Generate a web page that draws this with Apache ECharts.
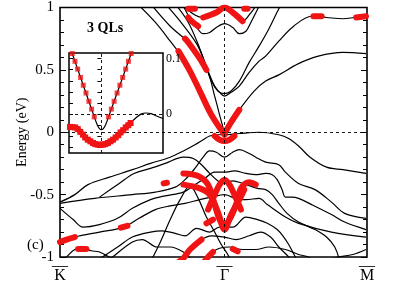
<!DOCTYPE html>
<html><head><meta charset="utf-8">
<script src="https://cdn.jsdelivr.net/npm/echarts@6/dist/echarts.min.js"></script>
<style>html,body{margin:0;padding:0;background:#fff}#c{width:406px;height:292px}</style>
</head><body><div id="c"></div>
<script>
// k axis: K = 0, Gamma = 1, M = 1 + sqrt(3)/2
const kTicks = [0, 1, 1.866];
const kLabels = ['K', 'Γ', 'M'];
const insetLabelTicks = [0, 0.1];
const insetMinorTicks = [-0.06, -0.04, -0.02, 0, 0.02, 0.04, 0.06, 0.08, 0.1];

// conduction bands
const bandC1 = [[0.47,1.03],[0.58,0.88],[0.67,0.73],[0.76,0.57],[0.85,0.33],[0.92,0.14],[1.0,-0.02]];
const bandC2 = [[0.55,1.03],[0.67,0.85],[0.78,0.72],[0.85,0.59],[0.90,0.48],[0.94,0.29],[0.97,0.14],[1.0,-0.01]];
const bandC3 = [[1.0,-0.01],[1.04,0.08],[1.09,0.18],[1.18,0.33],[1.25,0.41],[1.33,0.46],[1.45,0.55],[1.57,0.61],[1.72,0.64],[1.86,0.63]];
const bandP1 = [[0.64,1.03],[0.73,0.89],[0.83,0.71],[0.88,0.56],[0.92,0.41],[0.96,0.33],[1.0,0.31],[1.04,0.33],[1.09,0.41],[1.15,0.56],[1.21,0.69],[1.27,0.83],[1.33,0.99],[1.35,1.03]];
const bandP2 = [[0.70,1.03],[0.78,0.88],[0.85,0.67],[0.90,0.49],[0.94,0.37],[0.97,0.32],[1.0,0.29],[1.04,0.32],[1.09,0.37],[1.15,0.48],[1.21,0.57],[1.25,0.61],[1.33,0.73],[1.42,0.85],[1.53,0.93],[1.62,0.92],[1.72,0.91],[1.79,0.92],[1.86,0.93]];
const bandW1 = [[0.73,1.03],[0.82,0.94],[0.87,0.92],[0.95,0.96],[1.0,1.0],[1.05,0.96],[1.11,0.89],[1.15,0.94],[1.2,1.03]];
const bandW2 = [[0.75,1.01],[0.80,0.89],[0.83,0.84],[0.87,0.79],[0.91,0.80],[0.95,0.84],[1.0,0.87],[1.05,0.84],[1.09,0.79],[1.13,0.81],[1.16,0.88],[1.21,1.01]];

// valence bands
const bandV1 = [[0,-0.56],[0.09,-0.50],[0.17,-0.42],[0.30,-0.36],[0.44,-0.30],[0.55,-0.25],[0.67,-0.20],[0.75,-0.15],[0.82,-0.10],[0.87,-0.06],[0.91,-0.03],[0.96,-0.02],[1.0,-0.02],[1.09,-0.01],[1.21,0.0],[1.33,-0.02],[1.39,-0.05],[1.45,-0.11],[1.52,-0.20],[1.62,-0.28],[1.72,-0.30],[1.86,-0.33]];
const bandV2 = [[0,-0.57],[0.21,-0.53],[0.44,-0.50],[0.58,-0.48],[0.70,-0.44],[0.76,-0.38],[0.82,-0.29],[0.87,-0.20],[0.91,-0.15],[0.95,-0.16],[1.0,-0.20],[1.05,-0.16],[1.09,-0.14],[1.15,-0.17],[1.19,-0.20],[1.25,-0.24],[1.33,-0.26],[1.37,-0.32],[1.45,-0.41],[1.55,-0.46],[1.65,-0.56],[1.73,-0.65],[1.86,-0.69]];
const bandV3 = [[0,-0.61],[0.08,-0.70],[0.14,-0.76],[0.24,-0.74],[0.35,-0.69],[0.44,-0.61],[0.55,-0.54],[0.64,-0.51],[0.75,-0.48],[0.82,-0.42],[0.88,-0.37],[0.94,-0.32],[1.0,-0.32],[1.06,-0.31],[1.13,-0.33],[1.19,-0.34],[1.25,-0.33],[1.29,-0.34],[1.32,-0.38],[1.35,-0.46],[1.37,-0.52],[1.41,-0.52],[1.45,-0.53],[1.53,-0.58],[1.65,-0.66],[1.73,-0.72],[1.86,-0.78]];
const bandV4 = [[0.24,-0.52],[0.36,-0.41],[0.45,-0.33],[0.55,-0.29],[0.64,-0.25],[0.75,-0.20],[0.81,-0.21],[0.86,-0.26],[0.91,-0.33],[0.96,-0.39],[1.0,-0.41],[1.05,-0.39],[1.11,-0.41],[1.2,-0.45],[1.25,-0.46],[1.29,-0.50],[1.33,-0.57],[1.38,-0.65],[1.45,-0.72],[1.55,-0.78],[1.62,-0.84],[1.67,-0.92],[1.70,-1.03]];
const bandV5 = [[0,-0.88],[0.09,-0.84],[0.24,-0.80],[0.39,-0.76],[0.48,-0.69],[0.58,-0.62],[0.67,-0.59],[0.76,-0.57],[0.85,-0.54],[0.92,-0.52],[1.0,-0.50],[1.09,-0.54],[1.13,-0.54],[1.21,-0.53],[1.26,-0.58],[1.37,-0.68],[1.45,-0.73],[1.65,-0.80],[1.86,-0.84]];
const bandV6 = [[0.01,-1.04],[0.04,-1.0],[0.09,-0.94],[0.14,-0.93],[0.19,-0.95],[0.24,-0.96],[0.30,-1.0],[0.33,-1.02]];
const bandV7 = [[0.21,-1.04],[0.35,-0.92],[0.44,-0.84],[0.55,-0.80],[0.62,-0.79],[0.70,-0.81],[0.76,-0.83],[0.83,-0.77],[0.91,-0.80],[0.97,-0.76],[1.05,-0.76],[1.13,-0.68],[1.2,-0.70],[1.26,-0.73],[1.32,-0.78],[1.36,-0.84],[1.39,-0.90],[1.43,-1.0],[1.44,-1.04]];
const bandV8 = [[0.29,-1.04],[0.32,-1.0],[0.44,-0.88],[0.50,-0.86],[0.59,-0.92],[0.67,-0.92],[0.75,-0.96],[0.80,-1.02]];
const bandV9 = [[0.55,-1.04],[0.61,-0.88],[0.67,-0.70],[0.73,-0.54],[0.79,-0.43],[0.84,-0.53],[0.89,-0.68],[0.94,-0.80],[0.98,-0.90],[1.02,-0.98],[1.04,-1.04]];
const bandV10 = [[0.72,-1.04],[0.74,-1.02],[0.79,-0.94],[0.86,-0.86],[0.92,-0.83],[1.0,-0.84],[1.07,-0.86],[1.15,-0.83],[1.22,-0.80],[1.28,-0.84],[1.33,-0.92],[1.39,-1.0],[1.41,-1.04]];
const bandV11 = [[0.88,-1.04],[0.93,-0.96],[0.97,-0.93],[1.03,-0.92],[1.11,-0.94],[1.19,-0.94],[1.27,-0.92],[1.37,-0.94],[1.45,-0.98],[1.51,-1.0],[1.55,-1.04]];
const bandV12 = [[1.62,-1.02],[1.69,-1.0],[1.78,-0.98],[1.86,-0.94]];

// red (weighted) segments
const redC1 = [[0.72,0.65],[0.79,0.49],[0.85,0.33],[0.92,0.14],[1.0,-0.02]];
const redC2 = [[0.76,0.75],[0.78,0.72],[0.85,0.59],[0.89,0.50]];
const redC3 = [[1.0,-0.01],[1.04,0.08],[1.09,0.18]];
const redDirac = [[0.94,-0.03],[0.97,-0.06],[1.0,-0.07],[1.03,-0.06],[1.06,-0.03]];
const redP2a = [[1.54,0.93],[1.59,0.93]];
const redP2b = [[1.80,0.92],[1.86,0.93]];
const redW1 = [[0.87,0.92],[0.95,0.96],[1.0,1.0],[1.05,0.96],[1.11,0.89]];
const redW2 = [[0.78,0.92],[0.80,0.89],[0.84,0.85]];
const redTopA = [[0.78,0.99],[0.82,0.99]];
const redTopB = [[1.12,0.99],[1.14,0.99]];
const redWa = [[0.75,-0.33],[0.84,-0.35],[0.90,-0.42],[0.94,-0.58],[0.97,-0.70],[1.0,-0.74],[1.03,-0.70],[1.07,-0.58],[1.10,-0.45],[1.15,-0.40],[1.19,-0.42]];
const redWb = [[0.90,-0.62],[0.94,-0.50],[0.97,-0.42],[1.0,-0.38],[1.03,-0.42],[1.06,-0.50],[1.10,-0.62]];
const redWc = [[0.75,-0.42],[0.85,-0.45],[0.91,-0.50],[0.96,-0.64],[1.0,-0.78],[1.04,-0.66],[1.09,-0.54],[1.12,-0.46]];
const redDotA = [[0.63,-0.41],[0.65,-0.405]];
const redDotB = [[0.89,-0.73],[0.93,-0.70]];
const redK1 = [[0,-0.88],[0.04,-0.86],[0.09,-0.84]];
const redK2 = [[0.37,-0.765],[0.41,-0.75]];
const redK3 = [[0.11,-0.935],[0.16,-0.935]];
const redB1 = [[0.72,-1.04],[0.75,-1.01],[0.79,-0.94],[0.86,-0.86]];
const redB2 = [[0.87,-1.05],[0.90,-1.0],[0.93,-0.96]];
const redB3 = [[1.05,-0.935],[1.08,-0.955]];

// inset (zoom near Gamma)
const insetV = [[-0.094,0.115],[-0.090,0.109],[-0.056,0.052],[-0.022,-0.005],[-0.013,-0.019],[-0.006,-0.026],[0,-0.028],[0.006,-0.026],[0.013,-0.019],[0.022,-0.005],[0.057,0.052],[0.092,0.109],[0.096,0.115]];
const insetVMarks = [[-0.090,0.109],[-0.0816,0.095],[-0.0733,0.081],[-0.0643,0.066],[-0.056,0.052],[-0.0476,0.038],[-0.0387,0.023],[-0.0303,0.009],[-0.022,-0.005],
  [0.022,-0.005],[0.0307,0.009],[0.0392,0.023],[0.0484,0.038],[0.057,0.052],[0.0656,0.066],[0.0748,0.081],[0.0834,0.095],[0.092,0.109]];
const insetU = [[-0.097,-0.023],[-0.089,-0.0235],[-0.081,-0.024],[-0.073,-0.027],[-0.065,-0.032],[-0.057,-0.037],[-0.050,-0.042],[-0.042,-0.046],[-0.034,-0.049],[-0.026,-0.052],[-0.019,-0.054],[-0.011,-0.055],[-0.003,-0.055],[0.005,-0.055],[0.012,-0.054],[0.020,-0.052],[0.028,-0.049],[0.036,-0.046],[0.044,-0.042],[0.052,-0.038],[0.059,-0.033],[0.067,-0.029],[0.075,-0.024],[0.083,-0.020],[0.090,-0.016]];
const insetUTail = [[0.090,-0.016],[0.106,-0.007],[0.122,0.000],[0.137,0.002],[0.153,0.001],[0.168,-0.003],[0.19,-0.008]];

const blackBands = [bandC1,bandC2,bandC3,bandP1,bandP2,bandW1,bandW2,bandV1,bandV2,bandV3,bandV4,bandV5,bandV6,bandV7,bandV8,bandV9,bandV10,bandV11,bandV12];
const redBands = [redC1,redC2,redC3,redDirac,redP2a,redP2b,redW1,redW2,redTopA,redTopB,redWa,redWb,redWc,redDotA,redDotB,redK1,redK2,redK3,redB1,redB2,redB3];

const SERIF = '"Liberation Serif", "DejaVu Serif", serif';
const RED = '#f01414';
const series = [];
blackBands.forEach(function(d){
  series.push({type:'line', data:d, smooth:0.35, symbol:'none', xAxisIndex:0, yAxisIndex:0, z:2,
    lineStyle:{color:'#000', width:1.2}, silent:true});
});
redBands.forEach(function(d){
  series.push({type:'line', data:d, smooth:0.35, symbol:'none', xAxisIndex:0, yAxisIndex:0, z:3,
    lineStyle:{color:RED, width:6, cap:'round', join:'round'}, silent:true});
});
series.push({type:'line', data:[], xAxisIndex:0, yAxisIndex:0, z:4, silent:true,
  markLine:{silent:true, symbol:'none', label:{show:false},
    lineStyle:{color:'#000', width:0.9, type:[3,3]}, data:[{xAxis:1},{yAxis:0}]}});
// inset
series.push({type:'line', data:insetV, smooth:0.3, symbol:'none', xAxisIndex:1, yAxisIndex:2, z:8,
  lineStyle:{color:'#000', width:1.2}, silent:true,
  markLine:{silent:true, symbol:'none', label:{show:false},
    lineStyle:{color:'#000', width:0.9, type:[3,3]}, data:[{xAxis:0},{yAxis:0}]}});
series.push({type:'scatter', data:insetVMarks, xAxisIndex:1, yAxisIndex:2, z:9, symbol:'rect', symbolSize:5,
  itemStyle:{color:RED}, silent:true});
series.push({type:'line', data:insetU, smooth:0.3, xAxisIndex:1, yAxisIndex:2, z:9, symbol:'rect', symbolSize:6, showAllSymbol:true,
  itemStyle:{color:RED}, lineStyle:{color:RED, width:5}, silent:true});
series.push({type:'line', data:insetUTail, smooth:0.4, symbol:'none', xAxisIndex:1, yAxisIndex:2, z:8,
  lineStyle:{color:'#000', width:1.2}, silent:true});

const chart = echarts.init(document.getElementById('c'), null, {renderer:'canvas'});
chart.setOption({
  animation:false,
  backgroundColor:'#fff',
  grid:[
    {left:60, right:39, top:6, bottom:35, show:true, borderColor:'#000', borderWidth:1.6, backgroundColor:'transparent', z:0},
    {left:69, top:53, width:94, height:100, show:true, borderColor:'#000', borderWidth:1.5, backgroundColor:'#fff', z:5}
  ],
  xAxis:[
    {type:'value', gridIndex:0, min:0, max:1.866, axisLine:{show:false}, axisTick:{show:false}, splitLine:{show:false},
     axisLabel:{customValues:kTicks, margin:6, color:'#000', fontFamily:SERIF,
       formatter:function(v){ var i = kTicks.indexOf(v); return '{o|—}\n{t|' + (i>=0?kLabels[i]:'') + '}'; },
       rich:{o:{fontSize:16, lineHeight:6, fontFamily:SERIF, color:'#000'}, t:{fontSize:16, lineHeight:14, fontFamily:SERIF, color:'#000'}}}},
    {type:'value', gridIndex:1, min:-0.1, max:0.19, axisLine:{show:false}, axisTick:{show:false}, axisLabel:{show:false}, splitLine:{show:false}, z:6}
  ],
  yAxis:[
    {type:'value', gridIndex:0, min:-1, max:1, interval:0.5, position:'left',
     name:'Energy (eV)', nameLocation:'middle', nameGap:31, nameMoveOverlap:false,
     nameTextStyle:{fontFamily:SERIF, fontSize:14, color:'#000'},
     axisLine:{show:false}, splitLine:{show:false},
     axisTick:{show:true, inside:true, length:6, lineStyle:{color:'#000', width:1}},
     minorTick:{show:true, splitNumber:5, length:4, lineStyle:{color:'#000', width:1}},
     axisLabel:{color:'#000', fontFamily:SERIF, fontSize:15, margin:6}},
    {type:'value', gridIndex:0, min:-1, max:1, interval:0.5, position:'right',
     axisLine:{show:false}, splitLine:{show:false}, axisLabel:{show:false},
     axisTick:{show:true, inside:true, length:6, lineStyle:{color:'#000', width:1}},
     minorTick:{show:true, splitNumber:5, length:4, lineStyle:{color:'#000', width:1}}},
    {type:'value', gridIndex:1, min:-0.07, max:0.11, position:'right', z:6,
     axisLine:{show:false}, splitLine:{show:false},
     axisTick:{show:true, inside:true, length:4, customValues:insetMinorTicks, lineStyle:{color:'#000', width:1}},
     axisLabel:{customValues:insetLabelTicks, color:'#000', fontFamily:SERIF, fontSize:12, margin:3,
       formatter:function(v){ return v===0 ? '0' : String(v); }}},
    {type:'value', gridIndex:1, min:-0.07, max:0.11, position:'left', z:6,
     axisLine:{show:false}, splitLine:{show:false}, axisLabel:{show:false},
     axisTick:{show:true, inside:true, length:4, customValues:insetMinorTicks, lineStyle:{color:'#000', width:1}}}
  ],
  graphic:[
    {type:'text', left:87, top:21, z:20, style:{text:'3 QLs', font:'bold 14px "Liberation Serif"', fill:'#000'}},
    {type:'text', left:27, top:238, z:20, style:{text:'(c)', font:'15px "Liberation Serif"', fill:'#000'}}
  ],
  series:series
});
</script></body></html>
